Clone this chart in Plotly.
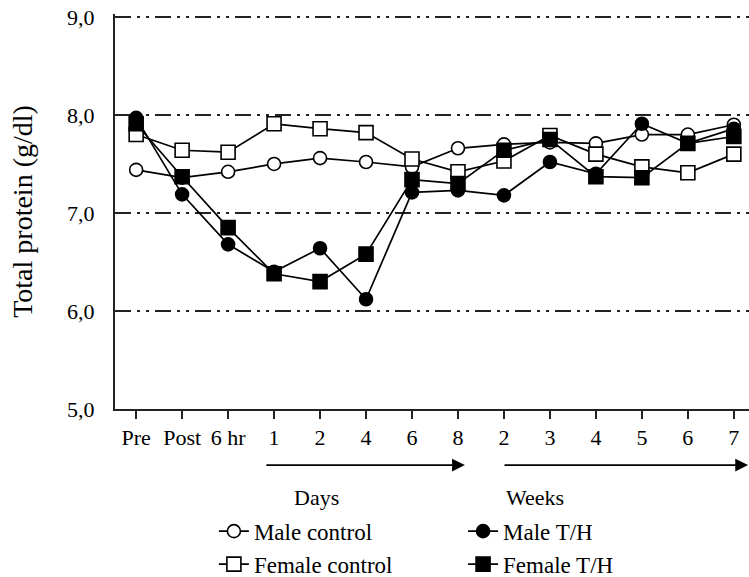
import plotly.graph_objects as go

x_labels = ["Pre", "Post", "6 hr", "1", "2", "4", "6", "8", "2", "3", "4", "5", "6", "7"]
male_control = [7.44, 7.36, 7.42, 7.50, 7.56, 7.52, 7.47, 7.66, 7.70, 7.72, 7.71, 7.80, 7.80, 7.90]
female_control = [7.80, 7.64, 7.62, 7.91, 7.86, 7.82, 7.55, 7.42, 7.53, 7.79, 7.60, 7.47, 7.41, 7.60]
male_th = [7.97, 7.19, 6.68, 6.40, 6.64, 6.12, 7.21, 7.23, 7.18, 7.52, 7.40, 7.91, 7.71, 7.86]
female_th = [7.91, 7.37, 6.85, 6.38, 6.30, 6.58, 7.34, 7.30, 7.64, 7.75, 7.37, 7.36, 7.71, 7.78]
y_ticks = [5, 6, 7, 8, 9]

xs = list(range(len(x_labels)))
FONT = "Liberation Serif"

fig = go.Figure()

def add(name, vals, symbol, fill, legend):
    fig.add_trace(go.Scatter(
        x=xs, y=vals, name=name, mode="lines+markers",
        line=dict(color="black", width=1.7),
        marker=dict(symbol=symbol, size=14 if "square" in symbol else 13,
                    color=fill, line=dict(color="black", width=1.6)),
        legend=legend,
    ))

add("Male control", male_control, "circle", "white", "legend")
add("Female control", female_control, "square", "white", "legend")
add("Male T/H", male_th, "circle", "black", "legend2")
add("Female T/H", female_th, "square", "black", "legend2")

grid_dash = "16px,6px,3px,6px,3px,6px"

fig.update_layout(
    width=749, height=577,
    margin=dict(l=115, r=0, t=14, b=168, autoexpand=False),
    paper_bgcolor="white", plot_bgcolor="white",
    separators=",.",
    font=dict(family=FONT, color="black", size=22),
    xaxis=dict(
        range=[-0.46, 13.33], tickvals=xs, ticktext=x_labels,
        showgrid=False, zeroline=False,
        showline=True, linecolor="#222", linewidth=2,
        ticks="outside", ticklen=8, tickwidth=1.5, tickcolor="#222",
        tickfont=dict(size=22, family=FONT),
    ),
    yaxis=dict(
        range=[5, 9.03], tickvals=y_ticks, tickformat=".1f",
        showgrid=True, gridcolor="#222", gridwidth=2, griddash=grid_dash,
        zeroline=False, showline=True, linecolor="#222", linewidth=2,
        ticks="", ticklabelstandoff=14,
        tickfont=dict(size=22, family=FONT),
        title=dict(text="Total protein (g/dl)", font=dict(size=28, family=FONT), standoff=26),
    ),
    legend=dict(x=0.156, y=-0.255, xanchor="left", yanchor="top",
                font=dict(size=23, family=FONT), itemwidth=30,
                bgcolor="rgba(0,0,0,0)", tracegroupgap=0),
    legend2=dict(x=0.549, y=-0.255, xanchor="left", yanchor="top",
                 font=dict(size=23, family=FONT), itemwidth=30,
                 bgcolor="rgba(0,0,0,0)", tracegroupgap=0),
    showlegend=True,
)

fig.add_annotation(x=7.15, y=-0.142, xref="x", yref="paper", text="",
                   showarrow=True, axref="x", ax=2.80, ayref="pixel", ay=0,
                   arrowhead=2, arrowsize=1.6, arrowwidth=1.6, arrowcolor="black", standoff=0)
fig.add_annotation(x=13.31, y=-0.142, xref="x", yref="paper", text="",
                   showarrow=True, axref="x", ax=7.98, ayref="pixel", ay=0,
                   arrowhead=2, arrowsize=1.6, arrowwidth=1.6, arrowcolor="black", standoff=0)
fig.add_annotation(x=3.93, y=-0.224, xref="x", yref="paper", yanchor="middle", text="Days",
                   showarrow=False, font=dict(size=22, family=FONT))
fig.add_annotation(x=8.67, y=-0.224, xref="x", yref="paper", yanchor="middle", text="Weeks",
                   showarrow=False, font=dict(size=22, family=FONT))

fig.write_html("out.html")
